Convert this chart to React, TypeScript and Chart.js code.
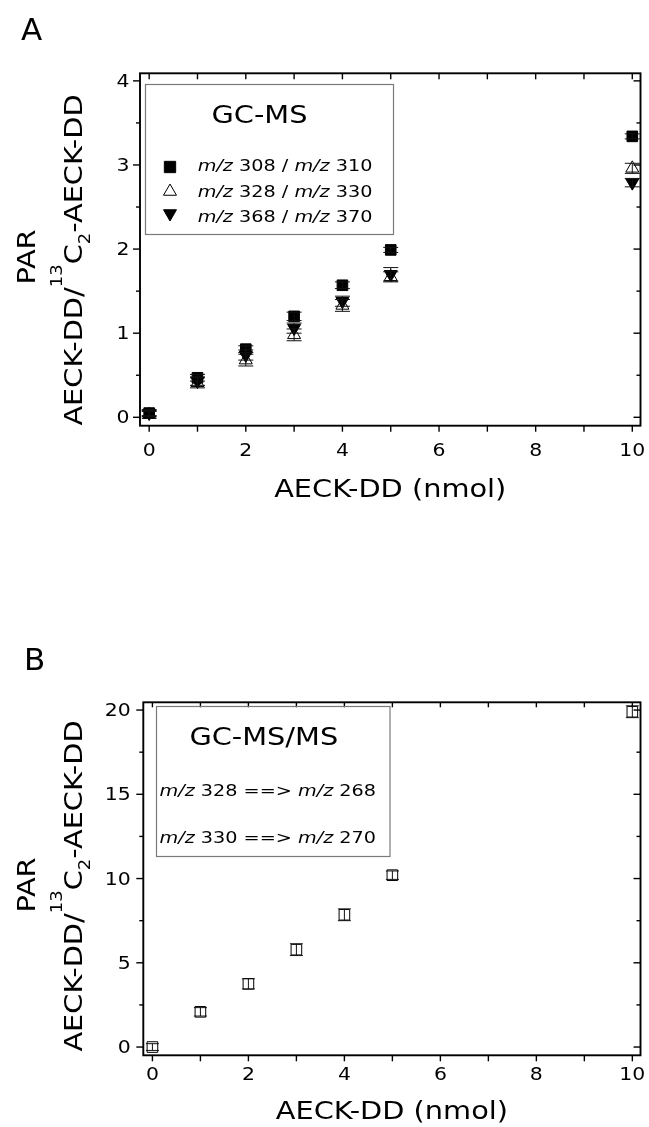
import React, { useEffect, useRef } from 'react';
import { Chart, registerables } from 'chart.js';

Chart.register(...registerables);

// ---------------- data ----------------
const doseNmol = [0, 1, 2, 3, 4, 5, 10];

// Panel A (GC-MS) peak area ratios
const parMz308 = [0.05, 0.47, 0.81, 1.2, 1.57, 1.99, 3.34];
const errMz308 = [0.03, 0.04, 0.04, 0.05, 0.04, 0.03, 0.03];
const parMz328 = [0.03, 0.41, 0.68, 0.98, 1.33, 1.67, 2.96];
const errMz328 = [0.04, 0.06, 0.07, 0.07, 0.07, 0.06, 0.06];
const parMz368 = [0.05, 0.43, 0.74, 1.06, 1.38, 1.7, 2.79];
const errMz368 = [0.04, 0.05, 0.06, 0.06, 0.06, 0.08, 0.05];

// Panel B (GC-MS/MS)
const parMsMs = [0.0, 2.09, 3.75, 5.78, 7.85, 10.2, 19.9];
const errMsMs = [0.2, 0.25, 0.3, 0.35, 0.35, 0.25, 0.35];

// ticks
const xTickValues = [0, 1, 2, 3, 4, 5, 6, 7, 8, 9, 10];
const xTickLabels = ['0', '', '2', '', '4', '', '6', '', '8', '', '10'];
const yTickValuesA = [0, 0.5, 1, 1.5, 2, 2.5, 3, 3.5, 4];
const yTickLabelsA = ['0', '', '1', '', '2', '', '3', '', '4'];
const yTickValuesB = [0, 2.5, 5, 7.5, 10, 12.5, 15, 17.5, 20];
const yTickLabelsB = ['0', '', '5', '', '10', '', '15', '', '20'];

// texts
const panelLetters = ['A', 'B'];
const legendTitleA = 'GC-MS';
const legendLabelsA = ['m/z 308 / m/z 310', 'm/z 328 / m/z 330', 'm/z 368 / m/z 370'];
const legendTitleB = 'GC-MS/MS';
const legendLabelsB = ['m/z 328 ==> m/z 268', 'm/z 330 ==> m/z 270'];
const xTitle = 'AECK-DD (nmol)';
const yTitleTop = 'PAR';

// ---------------- helpers ----------------
const FONT_FAMILY = '"DejaVu Sans", Verdana, sans-serif';
const STRETCH = 1.2;

type Seg = { t: string; it?: boolean; size?: number; dy?: number };

const yTitleSegs: Seg[] = [
  { t: 'AECK-DD/' },
  { t: '13', size: 15, dy: -20 },
  { t: 'C' },
  { t: '2', size: 15, dy: 8 },
  { t: '-AECK-DD' },
];

function parseMz(s: string): Seg[] {
  return s
    .split(/(m\/z)/)
    .filter((p) => p.length > 0)
    .map((p) => ({ t: p, it: p === 'm/z' }));
}

function fontOf(seg: Seg, base: number) {
  return `${seg.it ? 'italic ' : ''}${seg.size ?? base}px ${FONT_FAMILY}`;
}

function drawSegs(
  ctx: CanvasRenderingContext2D,
  segs: Seg[],
  x: number,
  y: number,
  align: 'left' | 'center' | 'right',
  base: number,
  rot = 0,
  sx = STRETCH
) {
  ctx.save();
  ctx.translate(x, y);
  if (rot) ctx.rotate(rot);
  ctx.scale(sx, 1);
  ctx.textAlign = 'left';
  ctx.textBaseline = 'alphabetic';
  ctx.fillStyle = '#000';
  let total = 0;
  const ws = segs.map((s) => {
    ctx.font = fontOf(s, base);
    const w = ctx.measureText(s.t).width;
    total += w;
    return w;
  });
  let cx = align === 'left' ? 0 : align === 'center' ? -total / 2 : -total;
  segs.forEach((s, i) => {
    ctx.font = fontOf(s, base);
    ctx.fillText(s.t, cx, s.dy ?? 0);
    cx += ws[i];
  });
  ctx.restore();
}

function line(ctx: CanvasRenderingContext2D, x1: number, y1: number, x2: number, y2: number) {
  ctx.beginPath();
  ctx.moveTo(x1, y1);
  ctx.lineTo(x2, y2);
  ctx.stroke();
}

function drawMarker(
  ctx: CanvasRenderingContext2D,
  style: 'rect' | 'tri' | 'triDown',
  x: number,
  y: number,
  r: number,
  fill: string
) {
  ctx.save();
  ctx.beginPath();
  if (style === 'rect') {
    const s = r * Math.SQRT1_2;
    ctx.rect(x - s, y - s, 2 * s, 2 * s);
  } else {
    const rot = style === 'triDown' ? Math.PI : 0;
    for (let k = 0; k < 3; k++) {
      const ang = rot + (k * 2 * Math.PI) / 3;
      const px = x + Math.sin(ang) * r;
      const py = y - Math.cos(ang) * r;
      if (k === 0) ctx.moveTo(px, py);
      else ctx.lineTo(px, py);
    }
    ctx.closePath();
  }
  ctx.fillStyle = fill;
  ctx.fill();
  ctx.strokeStyle = '#000';
  ctx.lineWidth = 1;
  ctx.stroke();
  ctx.restore();
}

function drawErrorBars(chart: any, vals: number[], errs: number[], capW: number) {
  const { ctx } = chart;
  const xs = chart.scales.x;
  const ys = chart.scales.y;
  ctx.save();
  ctx.strokeStyle = '#111';
  ctx.lineWidth = 1;
  doseNmol.forEach((d, i) => {
    const px = xs.getPixelForValue(d);
    const t = ys.getPixelForValue(vals[i] + errs[i]);
    const b = ys.getPixelForValue(vals[i] - errs[i]);
    line(ctx, px, t, px, b);
    line(ctx, px - capW / 2, t, px + capW / 2, t);
    line(ctx, px - capW / 2, b, px + capW / 2, b);
  });
  ctx.restore();
}

function drawFrameAndTicks(
  chart: any,
  yVals: number[],
  yLabels: string[],
  xLabelBaseline: number,
  yLabelRight: number,
  topTick: number
) {
  const { ctx, chartArea: a } = chart;
  const xs = chart.scales.x;
  const ys = chart.scales.y;
  ctx.save();
  ctx.strokeStyle = '#000';
  ctx.lineWidth = 1.4;
  xTickValues.forEach((v) => {
    const px = xs.getPixelForValue(v);
    line(ctx, px, a.bottom, px, a.bottom + 6);
    line(ctx, px, a.top, px, a.top + topTick);
  });
  yVals.forEach((v, i) => {
    const py = ys.getPixelForValue(v);
    const major = yLabels[i] !== '';
    line(ctx, a.left - (major ? 7 : 4), py, a.left, py);
    line(ctx, a.right - (major ? 7 : 4), py, a.right, py);
  });
  ctx.lineWidth = 1.9;
  ctx.strokeRect(a.left, a.top, a.right - a.left, a.bottom - a.top);
  ctx.restore();

  xTickValues.forEach((v, i) => {
    if (xTickLabels[i]) drawSegs(ctx, [{ t: xTickLabels[i] }], xs.getPixelForValue(v), xLabelBaseline, 'center', 17);
  });
  yVals.forEach((v, i) => {
    if (yLabels[i]) drawSegs(ctx, [{ t: yLabels[i] }], yLabelRight, ys.getPixelForValue(v) + 6.1, 'right', 17);
  });
}

function drawTitles(chart: any, xBase: number, parX: number, parY: number, l2X: number, l2Y: number) {
  const { ctx, chartArea: a } = chart;
  drawSegs(ctx, [{ t: xTitle }], (a.left + a.right) / 2, xBase, 'center', 24);
  drawSegs(ctx, [{ t: yTitleTop }], parX, parY, 'center', 24, -Math.PI / 2);
  drawSegs(ctx, yTitleSegs, l2X, l2Y, 'center', 24, -Math.PI / 2);
}

// ---------------- plugins ----------------
const panelAPlugin = {
  id: 'panelA',
  afterDatasetsDraw(chart: any) {
    drawErrorBars(chart, parMz328, errMz328, 15);
    drawErrorBars(chart, parMz368, errMz368, 15);
    drawErrorBars(chart, parMz308, errMz308, 15);
  },
  afterDraw(chart: any) {
    const { ctx } = chart;
    drawFrameAndTicks(chart, yTickValuesA, yTickLabelsA, 456, 129.5, 6);
    drawTitles(chart, 496.7, 35, 257, 81.7, 260);
    drawSegs(ctx, [{ t: panelLetters[0] }], 21, 40, 'left', 31, 0, 1);
    // legend box
    ctx.save();
    ctx.strokeStyle = '#7a7a7a';
    ctx.lineWidth = 1.2;
    ctx.strokeRect(145.5, 84.5, 248, 150);
    ctx.restore();
    drawSegs(ctx, [{ t: legendTitleA }], 259.5, 123.3, 'center', 24);
    const styles: Array<['rect' | 'tri' | 'triDown', string, number]> = [
      ['rect', '#000', 167],
      ['tri', '#fff', 191.5],
      ['triDown', '#000', 213.5],
    ];
    legendLabelsA.forEach((lab, i) => {
      const [st, fill, my] = styles[i];
      drawMarker(ctx, st, 170, my, st === 'rect' ? 8 : 7.5, fill);
      drawSegs(ctx, parseMz(lab), 197.7, 171.3 + i * 25.2, 'left', 16);
    });
  },
};

const panelBPlugin = {
  id: 'panelB',
  afterDatasetsDraw(chart: any) {
    drawErrorBars(chart, parMsMs, errMsMs, 13);
  },
  afterDraw(chart: any) {
    const { ctx } = chart;
    drawFrameAndTicks(chart, yTickValuesB, yTickLabelsB, 519.5, 130.7, 5);
    drawTitles(chart, 559, 35, 325, 81.7, 326);
    drawSegs(ctx, [{ t: panelLetters[1] }], 24, 109.5, 'left', 31, 0, 1);
    ctx.save();
    ctx.strokeStyle = '#7a7a7a';
    ctx.lineWidth = 1.2;
    ctx.strokeRect(156.5, 146.5, 233.5, 150);
    ctx.restore();
    drawSegs(ctx, [{ t: legendTitleB }], 263.8, 185, 'center', 24);
    legendLabelsB.forEach((lab, i) => {
      drawSegs(ctx, parseMz(lab), 159.5, 236 + i * 47.3, 'left', 16);
    });
  },
};

function baseScales(yMin: number, yMax: number, xHeight: number, yWidth: number) {
  return {
    x: {
      type: 'linear',
      min: -0.19,
      max: 10.17,
      ticks: { display: false },
      grid: { display: false },
      border: { display: false },
      afterFit: (s: any) => {
        s.height = xHeight;
        s.paddingLeft = 0;
        s.paddingRight = 0;
      },
    },
    y: {
      type: 'linear',
      min: yMin,
      max: yMax,
      ticks: { display: false },
      grid: { display: false },
      border: { display: false },
      afterFit: (s: any) => {
        s.width = yWidth;
        s.paddingTop = 0;
        s.paddingBottom = 0;
      },
    },
  };
}

function buildA(canvas: HTMLCanvasElement) {
  return new Chart(canvas, {
    type: 'scatter',
    data: {
      datasets: [
        {
          label: legendLabelsA[0],
          data: doseNmol.map((x, i) => ({ x, y: parMz308[i] })),
          pointStyle: 'rect',
          pointRadius: 7.5,
          pointBackgroundColor: '#000',
          pointBorderColor: '#000',
          pointBorderWidth: 1,
          order: 0,
        },
        {
          label: legendLabelsA[1],
          data: doseNmol.map((x, i) => ({ x, y: parMz328[i] })),
          pointStyle: 'triangle',
          pointRadius: 7.5,
          pointBackgroundColor: '#fff',
          pointBorderColor: '#000',
          pointBorderWidth: 1,
          order: 2,
        },
        {
          label: legendLabelsA[2],
          data: doseNmol.map((x, i) => ({ x, y: parMz368[i] })),
          pointStyle: 'triangle',
          pointRotation: 180,
          pointRadius: 7.5,
          pointBackgroundColor: '#000',
          pointBorderColor: '#000',
          pointBorderWidth: 1,
          order: 1,
        },
      ],
    },
    options: {
      responsive: false,
      animation: false,
      events: [],
      layout: { padding: { top: 73.3, right: 4, left: 0, bottom: 0 } },
      plugins: { legend: { display: false }, tooltip: { enabled: false } },
      scales: baseScales(-0.1, 4.09, 560 - 425.7, 140) as any,
    },
    plugins: [panelAPlugin],
  } as any);
}

function buildB(canvas: HTMLCanvasElement) {
  return new Chart(canvas, {
    type: 'scatter',
    data: {
      datasets: [
        {
          label: legendTitleB,
          data: doseNmol.map((x, i) => ({ x, y: parMsMs[i] })),
          pointStyle: 'rect',
          pointRadius: 7.5,
          pointBackgroundColor: 'rgba(255,255,255,0)',
          pointBorderColor: '#000',
          pointBorderWidth: 1,
        },
      ],
    },
    options: {
      responsive: false,
      animation: false,
      events: [],
      layout: { padding: { top: 142.3, right: 1.3, left: 0, bottom: 0 } },
      plugins: { legend: { display: false }, tooltip: { enabled: false } },
      scales: baseScales(-0.49, 20.46, 567 - 495.3, 143.3) as any,
    },
    plugins: [panelBPlugin],
  } as any);
}

function ChartCanvas({ build, top, height }: { build: (c: HTMLCanvasElement) => Chart; top: number; height: number }) {
  const ref = useRef<HTMLCanvasElement>(null);
  useEffect(() => {
    const chart = build(ref.current as HTMLCanvasElement);
    return () => chart.destroy();
  }, [build]);
  return (
    <canvas
      ref={ref}
      width={649}
      height={height}
      style={{ position: 'absolute', left: 0, top, width: 649, height, display: 'block' }}
    />
  );
}

export default function App() {
  return (
    <div style={{ position: 'absolute', left: 0, top: 0, width: 649, height: 1127, background: '#fff', overflow: 'hidden' }}>
      <ChartCanvas build={buildA} top={0} height={560} />
      <ChartCanvas build={buildB} top={560} height={567} />
    </div>
  );
}
